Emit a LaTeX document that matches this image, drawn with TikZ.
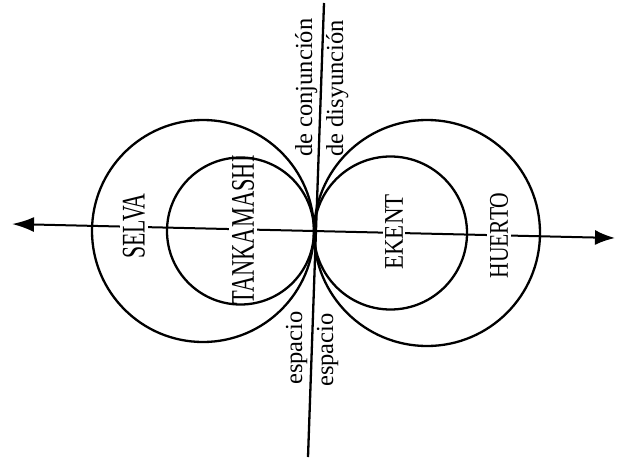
\documentclass[tikz,border=0pt]{standalone}
\usepackage{fontspec}
\setmainfont{Liberation Serif}
\usetikzlibrary{arrows.meta}
\begin{document}
\begin{tikzpicture}[x=1pt,y=-1pt,
  circ/.style={line width=2.3pt},
  axisline/.style={line width=2pt, {Latex[length=22pt,width=15pt]}-{Latex[length=20pt,width=15pt]}},
  vline/.style={line width=2.3pt},
  biglabel/.style={rotate=90, fill=white, inner sep=2.5pt},
  smalllabel/.style={rotate=90, inner sep=0pt, anchor=base west, font=\fontsize{24.5}{24.5}\selectfont}]
\useasboundingbox (0,0) rectangle (617,463);
% axis
\coordinate (L) at (12,224);
\coordinate (R) at (615,238);
\draw[axisline] (L) -- (R);
% vertical line
\coordinate (VT) at (324,3);
\coordinate (VB) at (308,457);
\draw[vline] (VT) -- (VB);
% labels on axis
\node[biglabel] (selva) at (134,226) {\scalebox{0.66}[1]{\fontsize{33}{33}\selectfont SELVA}};
\node[biglabel] (tank) at (243,230) {\scalebox{0.68}[1]{\fontsize{33}{33}\selectfont TANKAMASHI}};
\node[biglabel] (ekent) at (394,232) {\scalebox{0.85}[1]{\fontsize{27}{27}\selectfont EKENT}};
\node[biglabel] (huerto) at (499,235.5) {\scalebox{0.80}[1]{\fontsize{27}{27}\selectfont HUERTO}};
% circles
\draw[circ] (203,231) circle[radius=111];
\draw[circ] (240.5,231) circle[radius=73.5];
\draw[circ] (390.5,233) circle[radius=76.5];
\draw[circ] (427,233) circle[radius=113];
% side labels
\node[smalllabel] (conj) at (312,157) {de conjunción};
\node[smalllabel] (disy) at (343,157) {de disyunción};
\node[smalllabel] (esp1) at (302,385) {espacio};
\node[smalllabel] (esp2) at (333,387) {espacio};
\end{tikzpicture}
\end{document}
